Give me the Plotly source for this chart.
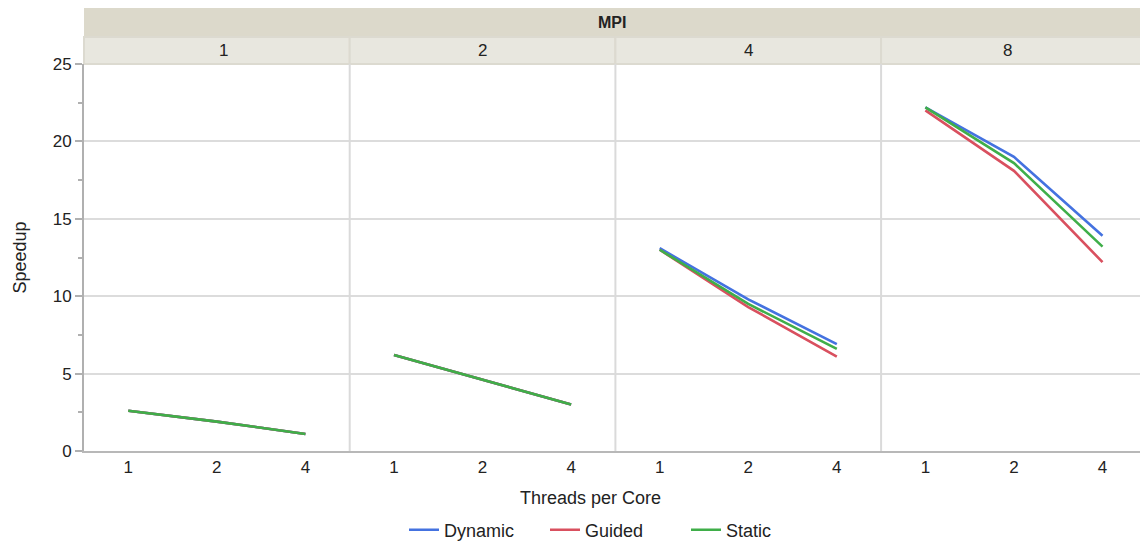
import plotly.graph_objects as go

# Speedup by MPI process count, threads per core and scheduling strategy
mpi_levels = ["1", "2", "4", "8"]
threads = ["1", "2", "4"]

dynamic = {
    "1": [2.6, 1.9, 1.1],
    "2": [6.2, 4.6, 3.0],
    "4": [13.1, 9.8, 6.9],
    "8": [22.2, 19.0, 13.9],
}
guided = {
    "1": [2.6, 1.9, 1.1],
    "2": [6.2, 4.6, 3.0],
    "4": [13.0, 9.3, 6.1],
    "8": [22.0, 18.1, 12.2],
}
static = {
    "1": [2.6, 1.9, 1.1],
    "2": [6.2, 4.6, 3.0],
    "4": [13.0, 9.5, 6.6],
    "8": [22.2, 18.6, 13.2],
}

series = [
    ("Dynamic", dynamic, "#4472e0"),
    ("Guided", guided, "#d9505f"),
    ("Static", static, "#3fae49"),
]

W, H = 1140, 544
ML, MR, MT, MB = 84, 0, 64, 93
plot_w = W - ML - MR
plot_h = H - MT - MB
panel_px = 265.7          # each facet's width; the last one runs past the right edge
panel_frac = panel_px / plot_w

font = "Liberation Sans, Arial, sans-serif"
fig = go.Figure()

layout_axes = {}
for i, m in enumerate(mpi_levels):
    x0 = i * panel_frac
    x1 = min(1.0, (i + 1) * panel_frac)
    visible = (x1 - x0) / panel_frac
    xname = "xaxis" if i == 0 else f"xaxis{i + 1}"
    layout_axes[xname] = dict(
        domain=[x0, x1], anchor="y", type="category", categoryorder="array",
        categoryarray=threads, range=[-0.5, -0.5 + 3 * visible],
        showgrid=False, zeroline=False, showline=True, linecolor="#b8b8b8",
        linewidth=2, ticks="", tickfont=dict(size=17, color="#222"),
    )
    for name, data, color in series:
        fig.add_trace(go.Scatter(
            x=threads, y=data[m], mode="lines", name=name,
            line=dict(color=color, width=2.6),
            legendgroup=name, showlegend=(i == 0),
            xaxis="x" if i == 0 else f"x{i + 1}", yaxis="y",
        ))

layout_axes["yaxis"] = dict(
    domain=[0, 1], range=[0, 25], dtick=5, showgrid=True, gridcolor="#dcdcdc",
    gridwidth=1.5, zeroline=False, showline=True, linecolor="#b0b0b0", linewidth=2,
    ticks="outside", ticklen=7, tickcolor="#b0b0b0", tickwidth=1.5,
    minor=dict(dtick=2.5, ticks="outside", ticklen=4, tickcolor="#b0b0b0",
               tickwidth=1.5, showgrid=False),
    tickfont=dict(size=17, color="#222"),
)

shapes = []
# panel separators
for k in range(1, 4):
    shapes.append(dict(type="line", xref="paper", yref="paper", x0=k * panel_frac,
                       x1=k * panel_frac, y0=0, y1=1,
                       line=dict(color="#dadada", width=2)))
# header bands
sub_h = 27 / plot_h
top_h = 29 / plot_h
shapes.append(dict(type="rect", xref="paper", yref="paper", x0=0, x1=1.01,
                   y0=1 + sub_h, y1=1 + sub_h + top_h, fillcolor="#dcd9cb",
                   line=dict(width=0), layer="below"))
for k in range(4):
    shapes.append(dict(type="rect", xref="paper", yref="paper", x0=k * panel_frac,
                       x1=(k + 1) * panel_frac, y0=1, y1=1 + sub_h,
                       fillcolor="#e8e7df", line=dict(color="#dcdad0", width=2),
                       layer="below"))

annotations = [
    dict(text="<b>MPI</b>", xref="paper", yref="paper", x=0.5, y=1 + sub_h + top_h / 2,
         showarrow=False, font=dict(size=16, color="#222", family=font), yanchor="middle"),
    dict(text="Threads per Core", xref="paper", yref="paper", x=(590 - ML) / plot_w,
         y=-47 / plot_h, showarrow=False, font=dict(size=18, color="#222", family=font),
         yanchor="middle"),
    dict(text="Speedup", xref="paper", yref="paper", x=(19 - ML) / plot_w, y=0.5,
         textangle=-90, showarrow=False, xanchor="center", yanchor="middle",
         font=dict(size=18, color="#222", family=font)),
]
for k, m in enumerate(mpi_levels):
    annotations.append(dict(text=m, xref="paper", yref="paper",
                            x=(k + 0.5) * panel_frac, y=1 + sub_h / 2, showarrow=False,
                            yanchor="middle", font=dict(size=17, color="#222", family=font)))

fig.update_layout(
    width=W, height=H, margin=dict(l=ML, r=MR, t=MT, b=MB, autoexpand=False),
    plot_bgcolor="white", paper_bgcolor="white",
    font=dict(family=font, color="#222"),
    shapes=shapes, annotations=annotations,
    legend=dict(orientation="h", xanchor="left", x=(404 - ML) / plot_w,
                yanchor="middle", y=-79 / plot_h, font=dict(size=18),
                entrywidth=96, entrywidthmode="pixels"),
    **layout_axes,
)

fig.write_html("out.html")
